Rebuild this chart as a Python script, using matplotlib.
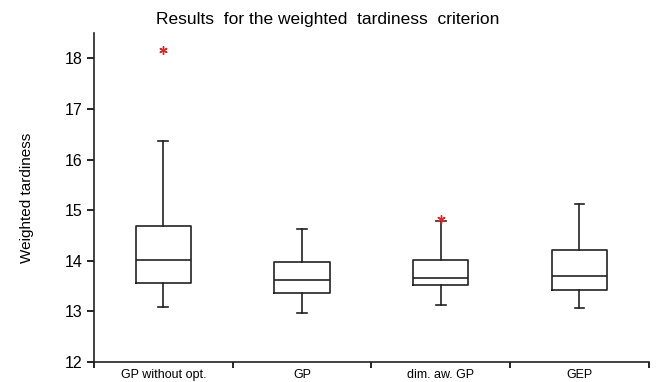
import matplotlib
matplotlib.use("Agg")
import matplotlib.pyplot as plt

plt.rcParams['font.family'] = ['Liberation Sans', 'DejaVu Sans']

labels = ["GP without opt.", "GP", "dim. aw. GP", "GEP"]
whislo = [13.09, 12.97, 13.13, 13.07]
q1 = [13.57, 13.36, 13.53, 13.42]
med = [14.02, 13.61, 13.65, 13.69]
q3 = [14.69, 13.97, 14.02, 14.21]
whishi = [16.36, 14.63, 14.78, 15.13]
fliers = [[18.17], [], [14.82], []]

stats = []
for i in range(len(labels)):
    stats.append(dict(label=labels[i], whislo=whislo[i], q1=q1[i], med=med[i],
                      q3=q3[i], whishi=whishi[i], fliers=fliers[i]))

fig = plt.figure(figsize=(6.56, 3.82), dpi=100)
ax = fig.add_axes([0.1433, 0.0524, 0.8457, 0.8612])

ax.bxp(stats, positions=[1, 2, 3, 4], widths=0.4, showfliers=True,
       boxprops=dict(color="#222222", linewidth=1.2),
       medianprops=dict(color="#222222", linewidth=1.2),
       whiskerprops=dict(color="#222222", linewidth=1.2),
       capprops=dict(color="#222222", linewidth=1.2),
       capwidths=0.07,
       flierprops=dict(marker=(6, 2, 0), markeredgecolor="#d42a2a",
                       markerfacecolor="#d42a2a", markersize=6,
                       markeredgewidth=1.0, linestyle="none"))

ax.set_xlim(0.5, 4.5)
ax.set_ylim(12, 18.5)
ax.set_yticks([12, 13, 14, 15, 16, 17, 18])
ax.set_xticks([1, 2, 3, 4])
ax.set_xticklabels(labels, fontsize=9)
ax.set_xticks([0.5, 1.5, 2.5, 3.5, 4.5], minor=True)
ax.tick_params(axis="x", which="major", length=0, pad=5)
ax.tick_params(axis="x", which="minor", length=4, width=1.2, direction="out")
ax.tick_params(axis="y", labelsize=11.5, length=5, width=1.2, direction="out")
for s in ["top", "right"]:
    ax.spines[s].set_visible(False)
for s in ["left", "bottom"]:
    ax.spines[s].set_linewidth(1.2)
    ax.spines[s].set_color("#222222")

ax.set_ylabel("Weighted tardiness", fontsize=11, labelpad=22)
fig.text(0.5, 0.948, "Results  for the weighted  tardiness  criterion",
         ha="center", va="center", fontsize=12.5)

fig.savefig("out.png", dpi=100)
